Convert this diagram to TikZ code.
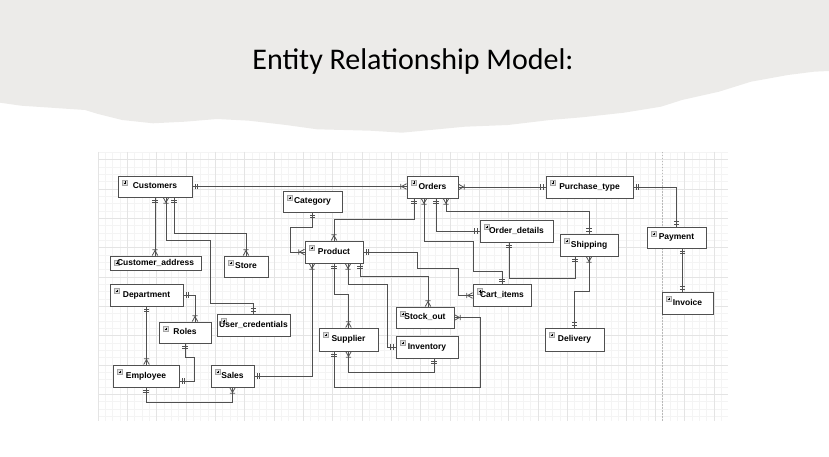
\documentclass[tikz,border=0pt]{standalone}
\usepackage{fontspec}
\newfontfamily\titlefont{Carlito}
\newfontfamily\boxfont{Liberation Sans}

\definecolor{band}{RGB}{236,235,233}
\definecolor{edge}{RGB}{80,80,80}
\definecolor{gridminor}{RGB}{244,244,244}
\definecolor{gridmajor}{RGB}{228,228,228}

% crow's foot tips
\pgfdeclarearrow{
  name = ERone,
  setup code = {
    \pgfarrowssettipend{0pt}
    \pgfarrowssetlineend{0pt}
    \pgfarrowssetbackend{-6pt}
    \pgfarrowssetvisualbackend{-6pt}
  },
  drawing code = {
    \pgfpathmoveto{\pgfqpoint{-2.6pt}{-2.6pt}}
    \pgfpathlineto{\pgfqpoint{-2.6pt}{2.6pt}}
    \pgfpathmoveto{\pgfqpoint{-5pt}{-2.6pt}}
    \pgfpathlineto{\pgfqpoint{-5pt}{2.6pt}}
    \pgfusepathqstroke
  }
}
\pgfdeclarearrow{
  name = ERmany,
  setup code = {
    \pgfarrowssettipend{0pt}
    \pgfarrowssetlineend{0pt}
    \pgfarrowssetbackend{-7pt}
    \pgfarrowssetvisualbackend{-7pt}
  },
  drawing code = {
    \pgfpathmoveto{\pgfqpoint{0pt}{2.8pt}}
    \pgfpathlineto{\pgfqpoint{-5pt}{0pt}}
    \pgfpathmoveto{\pgfqpoint{0pt}{-2.8pt}}
    \pgfpathlineto{\pgfqpoint{-5pt}{0pt}}
    \pgfpathmoveto{\pgfqpoint{-5.8pt}{-2.6pt}}
    \pgfpathlineto{\pgfqpoint{-5.8pt}{2.6pt}}
    \pgfusepathqstroke
  }
}

\begin{document}
\begin{tikzpicture}[
    x=1pt, y=-1pt,
    entity/.style={draw=edge, line width=0.9pt, fill=white, inner sep=0pt,
        font=\boxfont\bfseries\fontsize{8.5}{10}\selectfont, text height=6.3pt, text depth=1.7pt,
        path picture={
            \draw[gray!70, fill=gray!25, line width=0.4pt] ([xshift=4pt,yshift=-4pt]path picture bounding box.north west) rectangle ++(5.5pt,-5.5pt);
            \draw[black, line width=0.4pt] ([xshift=5.5pt,yshift=-6.75pt]path picture bounding box.north west) -- ++(2.5pt,0pt)
                ([xshift=6.75pt,yshift=-5.5pt]path picture bounding box.north west) -- ++(0pt,-2.5pt);
        }},
    rel/.style={draw=edge, line width=0.8pt},
    oneone/.style={rel, ERone-ERone},
    onemany/.style={rel, ERone-ERmany},
    manyone/.style={rel, ERmany-ERone},
    minor/.style={draw=gridminor, line width=0.5pt},
    major/.style={draw=gridmajor, line width=0.6pt}
]
\useasboundingbox (0,0) rectangle (829,457);

% torn paper header
\fill[band] (0,0) -- (829,0) -- (829,71) -- (814,71.7) -- (788,75) -- (751,81.7) -- (719,91.7) -- (682,100)
    -- (661,106.7) -- (624,112.7) -- (582,117.3) -- (550,120) -- (508,125) -- (465,126.7) -- (423,130.7)
    -- (402,132.7) -- (370,130.7) -- (317,129.3) -- (286,125) -- (249,120.7) -- (217,119) -- (185,121.7)
    -- (153,123.3) -- (122,120) -- (98,114) -- (85,110) -- (21,105.7) -- (0,102.7) -- cycle;
\node[font=\titlefont\fontsize{30}{36}\selectfont, anchor=base] (title) at (413,69.5) {Entity Relationship Model:};

% grid
\foreach \i in {0,...,85} \draw[minor] (98+\i*7.333,152) -- ++(0,269);
\foreach \j in {0,...,36} \draw[minor] (98,152.3+\j*7.333) -- ++(630,0);
\foreach \i in {0,...,21} \draw[major] (98+\i*29.333,152) -- ++(0,269);
\foreach \j in {0,...,8} \draw[major] (98,159.7+\j*29.333) -- ++(630,0);
\draw[gray!55, line width=0.5pt, dash pattern=on 1.5pt off 1.5pt] (662,152) -- ++(0,269);

% entities
\node[entity, minimum width=74pt, minimum height=21pt] (cust) at (155,186.5) {Customers};
\node[entity, minimum width=91pt, minimum height=14pt] (caddr) at (155.5,263) {Customer\_address};
\node[entity, minimum width=44pt, minimum height=21pt] (store) at (246,266.5) {Store};
\node[entity, minimum width=59pt, minimum height=21pt] (categ) at (312.5,201.5) {Category};
\node[entity, minimum width=58pt, minimum height=22pt] (prod) at (334,252) {Product};
\node[entity, minimum width=51pt, minimum height=22pt] (orders) at (432.5,187) {Orders};
\node[entity, minimum width=73pt, minimum height=22pt] (odet) at (516.5,231) {Order\_details};
\node[entity, minimum width=58pt, minimum height=22pt] (cart) at (502,295.5) {Cart\_items};
\node[entity, minimum width=87pt, minimum height=22pt] (ptype) at (589.5,187) {Purchase\_type};
\node[entity, minimum width=58pt, minimum height=22pt] (ship) at (589,245) {Shipping};
\node[entity, minimum width=59pt, minimum height=21pt] (pay) at (676.5,237.5) {Payment};
\node[entity, minimum width=51pt, minimum height=22pt] (inv) at (687.5,303) {Invoice};
\node[entity, minimum width=59pt, minimum height=23pt] (deliv) at (574.5,339.5) {Delivery};
\node[entity, minimum width=73pt, minimum height=22pt] (dept) at (146.5,295) {Department};
\node[entity, minimum width=52pt, minimum height=21pt] (roles) at (185,332.5) {Roles};
\node[entity, minimum width=73pt, minimum height=22pt] (ucred) at (253.5,325) {User\_credentials};
\node[entity, minimum width=66pt, minimum height=22pt] (emp) at (146,376) {Employee};
\node[entity, minimum width=43pt, minimum height=22pt] (sales) at (232.5,376) {Sales};
\node[entity, minimum width=58pt, minimum height=21pt] (stock) at (425,317.5) {Stock\_out};
\node[entity, minimum width=59pt, minimum height=23pt] (supp) at (348.5,339.5) {Supplier};
\node[entity, minimum width=62pt, minimum height=22pt] (invent) at (427,347) {Inventory};

% relationships
\draw[onemany] (cust.east) -- (cust.east -| orders.west);
\draw[manyone] (orders.east) -- (ptype.west);
\draw[oneone] (ptype.east) -| (pay.north);
\draw[oneone] ([xshift=6pt]pay.south) -- ([xshift=6pt]pay.south |- inv.north);
\draw[onemany] (cust.south) -- (cust.south |- caddr.north);
\draw[manyone] ([xshift=11pt]cust.south) |- (210,240) -- (210,303) -| (ucred.north);
\draw[onemany] ([xshift=19pt]cust.south) |- ([yshift=22pt]store.north) -- (store.north);
\draw[onemany] (categ.south) |- (290,227) |- (prod.west);
\draw[onemany] ([xshift=-18.5pt]orders.south) |- ([yshift=21pt]prod.north) -- (prod.north);
\draw[manyone] ([xshift=-8.5pt]orders.south) |- (473,241) |- ([yshift=13pt]cart.north) -- (cart.north);
\draw[oneone] ([xshift=3.5pt]orders.south) |- (odet.west);
\draw[manyone] ([xshift=13.5pt]orders.south) |- ([yshift=22pt]ship.north) -- (ship.north);
\draw[oneone] ([xshift=-7.5pt]odet.south) |- ([xshift=-14pt,yshift=-22pt]ship.south) -- ([xshift=-14pt]ship.south);
\draw[manyone] (ship.south) |- ([yshift=36pt]deliv.north) -- (deliv.north);
\draw[onemany] (prod.east) -| (417,268) -| (458,295.5) -- (cart.west);
\draw[manyone] ([xshift=-22pt]prod.south) |- (sales.east);
\draw[onemany] (prod.south) |- ([yshift=33pt]supp.north) -- (supp.north);
\draw[manyone] ([xshift=14pt]prod.south) |- (387,284) |- (invent.west);
\draw[onemany] ([xshift=26pt]prod.south) |- ([xshift=3pt,yshift=30pt]stock.north) -- ([xshift=3pt]stock.north);
\draw[manyone] (supp.south) |- ([xshift=7pt,yshift=-14pt]invent.south) -- ([xshift=7pt]invent.south);
\draw[onemany] ([xshift=-14.5pt]supp.south) |- (480,387) |- (stock.east);
\draw[onemany] (dept.east) -| ([xshift=10pt]roles.north);
\draw[onemany] (dept.south) -- (dept.south |- emp.north);
\draw[oneone] (roles.south) |- (194,357) |- ([yshift=-5pt]emp.east);
\draw[onemany] (emp.south) |- ([yshift=-15pt]sales.south) -- (sales.south);
\end{tikzpicture}
\end{document}
